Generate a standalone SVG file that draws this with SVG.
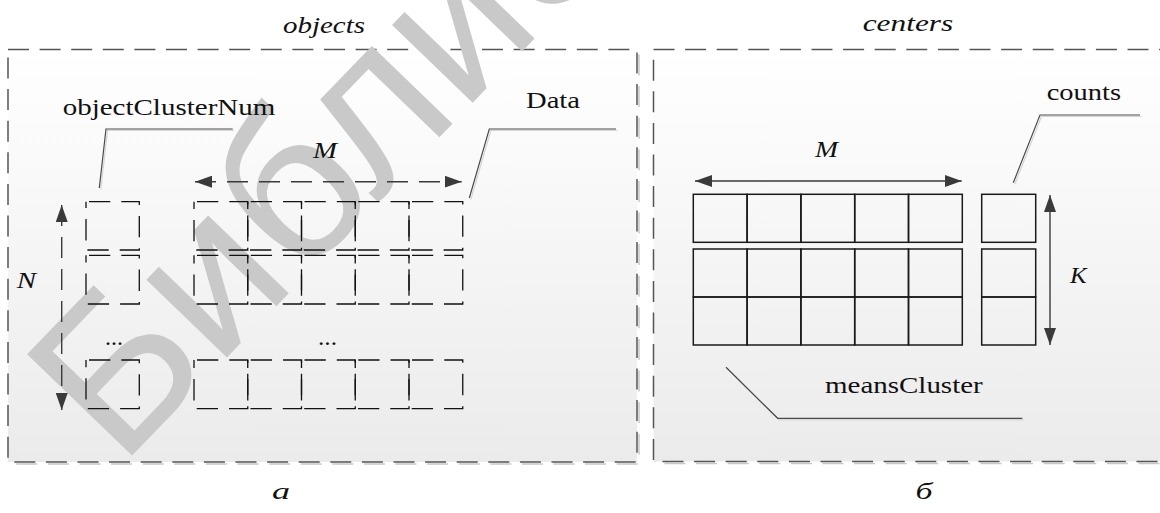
<svg xmlns="http://www.w3.org/2000/svg" width="1160" height="513" viewBox="0 0 1160 513">
<style>
text{font-family:"Liberation Serif","Times New Roman",serif;fill:#111;font-size:23px}
.it{font-style:italic}
.panel{fill:url(#bg);stroke:#555;stroke-width:1.5;stroke-dasharray:21 10.6}
.pshadow{fill:none;stroke:#c8c8c8;stroke-width:1.5;stroke-dasharray:21 10.6}
.dcell{fill:none;stroke:#111;stroke-width:1.3;stroke-dasharray:21.3 11;stroke-dashoffset:-3}
.scell{fill:none;stroke:#1a1a1a;stroke-width:1.5}
.arr{fill:none;stroke:#3a3a3a;stroke-width:1.4}
.dash{stroke-dasharray:21 11}
.callout{fill:none;stroke:#4a4a4a;stroke-width:1.2}
.cshadow{fill:none;stroke:#d5d5d5;stroke-width:1.2}
.wm{font-family:"Liberation Sans",Arial,sans-serif;font-size:212px;fill:#c9c9c9}
</style>
<defs>
<linearGradient id="bg" x1="0" y1="0" x2="0" y2="1">
<stop offset="0" stop-color="#ffffff"/>
<stop offset="1" stop-color="#ebebeb"/>
</linearGradient>
<marker id="ah" markerUnits="userSpaceOnUse" markerWidth="18" markerHeight="12" refX="17" refY="6" orient="auto-start-reverse">
<path d="M0,0 L17,6 L0,12 z" fill="#3a3a3a"/>
</marker>
</defs>
<rect width="1160" height="513" fill="#ffffff"/>
<g id="panel-objects">
<rect class="pshadow" x="10" y="51.5" width="629" height="412.5"/>
<rect class="panel" x="8" y="49.5" width="629" height="412.5"/>
</g>
<g id="panel-centers">
<rect class="pshadow" x="655.5" y="51.5" width="520" height="412"/>
<rect class="panel" x="653.5" y="49.5" width="520" height="412"/>
</g>
<text class="wm" transform="translate(120,468) rotate(-46)">Библиотека БГУИР</text>
<g id="titles">
<text class="it" x="283" y="33" textLength="82" lengthAdjust="spacingAndGlyphs">objects</text>
<text class="it" x="862.7" y="30.5" textLength="90.6" lengthAdjust="spacingAndGlyphs">centers</text>
</g>
<g id="objectClusterNum">
<rect class="dcell" x="86" y="201.7" width="53.3" height="48.3"/>
<rect class="dcell" x="86" y="255.3" width="53.3" height="48.7"/>
<rect class="dcell" x="86" y="360" width="53.3" height="48.7"/>
<text x="105" y="345" textLength="18" lengthAdjust="spacingAndGlyphs">...</text>
<text x="62.7" y="115" textLength="212.6" lengthAdjust="spacingAndGlyphs">objectClusterNum</text>
</g>
<g id="Data">
<rect class="dcell" x="194" y="201.7" width="53.75" height="48.3"/>
<rect class="dcell" x="247.75" y="201.7" width="53.75" height="48.3"/>
<rect class="dcell" x="301.5" y="201.7" width="53.75" height="48.3"/>
<rect class="dcell" x="355.25" y="201.7" width="53.75" height="48.3"/>
<rect class="dcell" x="409" y="201.7" width="53.75" height="48.3"/>
<rect class="dcell" x="194" y="255.3" width="53.75" height="48.7"/>
<rect class="dcell" x="247.75" y="255.3" width="53.75" height="48.7"/>
<rect class="dcell" x="301.5" y="255.3" width="53.75" height="48.7"/>
<rect class="dcell" x="355.25" y="255.3" width="53.75" height="48.7"/>
<rect class="dcell" x="409" y="255.3" width="53.75" height="48.7"/>
<rect class="dcell" x="194" y="360" width="53.75" height="48.7"/>
<rect class="dcell" x="247.75" y="360" width="53.75" height="48.7"/>
<rect class="dcell" x="301.5" y="360" width="53.75" height="48.7"/>
<rect class="dcell" x="355.25" y="360" width="53.75" height="48.7"/>
<rect class="dcell" x="409" y="360" width="53.75" height="48.7"/>
<text x="318" y="345" textLength="19" lengthAdjust="spacingAndGlyphs">...</text>
<text x="526" y="107.7" textLength="54" lengthAdjust="spacingAndGlyphs">Data</text>
</g>
<g id="meansCluster">
<rect class="scell" x="693.3" y="194.3" width="53.8" height="48"/>
<rect class="scell" x="747.1" y="194.3" width="53.8" height="48"/>
<rect class="scell" x="800.9" y="194.3" width="53.8" height="48"/>
<rect class="scell" x="854.7" y="194.3" width="53.8" height="48"/>
<rect class="scell" x="908.5" y="194.3" width="53.8" height="48"/>
<rect class="scell" x="693.3" y="249" width="53.8" height="48"/>
<rect class="scell" x="747.1" y="249" width="53.8" height="48"/>
<rect class="scell" x="800.9" y="249" width="53.8" height="48"/>
<rect class="scell" x="854.7" y="249" width="53.8" height="48"/>
<rect class="scell" x="908.5" y="249" width="53.8" height="48"/>
<rect class="scell" x="693.3" y="297" width="53.8" height="48"/>
<rect class="scell" x="747.1" y="297" width="53.8" height="48"/>
<rect class="scell" x="800.9" y="297" width="53.8" height="48"/>
<rect class="scell" x="854.7" y="297" width="53.8" height="48"/>
<rect class="scell" x="908.5" y="297" width="53.8" height="48"/>
<text x="825" y="392.7" textLength="157.7" lengthAdjust="spacingAndGlyphs">meansCluster</text>
</g>
<g id="counts">
<rect class="scell" x="981.7" y="194.3" width="54" height="48"/>
<rect class="scell" x="981.7" y="249" width="54" height="48"/>
<rect class="scell" x="981.7" y="297" width="54" height="48"/>
<text x="1046.7" y="100" textLength="74.3" lengthAdjust="spacingAndGlyphs">counts</text>
</g>
<g id="dimension-labels">
<text class="it" x="313" y="158" textLength="24" lengthAdjust="spacingAndGlyphs">M</text>
<text class="it" x="16.7" y="288" textLength="19.3" lengthAdjust="spacingAndGlyphs">N</text>
<text class="it" x="815" y="157" textLength="23" lengthAdjust="spacingAndGlyphs">M</text>
<text class="it" x="1070" y="283" textLength="16.7" lengthAdjust="spacingAndGlyphs">K</text>
</g>
<g id="connectors">
<polyline class="cshadow" points="100.8,189.5 107.5,130.5 234,130.5"/>
<polyline class="callout" points="99.3,188 106,129 232.7,129"/>
<polyline class="cshadow" points="470.8,199.5 490.8,130.5 617.5,130.5"/>
<polyline class="callout" points="469.3,198 489.3,129 616,129"/>
<polyline class="cshadow" points="1014.8,184.2 1041.5,116.5 1141.5,116.5"/>
<polyline class="callout" points="1013.3,182.7 1040,115 1140,115"/>
<polyline class="cshadow" points="727.5,368.8 779.2,419.8 1023.8,419.8"/>
<polyline class="callout" points="726,367.3 777.7,418.3 1022.3,418.3"/>
<line class="arr dash" x1="195" y1="181.7" x2="461.7" y2="181.7" marker-start="url(#ah)" marker-end="url(#ah)"/>
<line class="arr dash" x1="61.7" y1="205" x2="61.7" y2="410" marker-start="url(#ah)" marker-end="url(#ah)"/>
<line class="arr" x1="695" y1="181" x2="961.7" y2="181" marker-start="url(#ah)" marker-end="url(#ah)"/>
<line class="arr" x1="1050" y1="195" x2="1050" y2="345" marker-start="url(#ah)" marker-end="url(#ah)"/>
</g>
<g id="captions">
<text class="it" x="272" y="499" font-size="40" textLength="18" lengthAdjust="spacingAndGlyphs">а</text>
<text class="it" x="915.5" y="499" font-size="40" textLength="17" lengthAdjust="spacingAndGlyphs">б</text>
</g>
</svg>
